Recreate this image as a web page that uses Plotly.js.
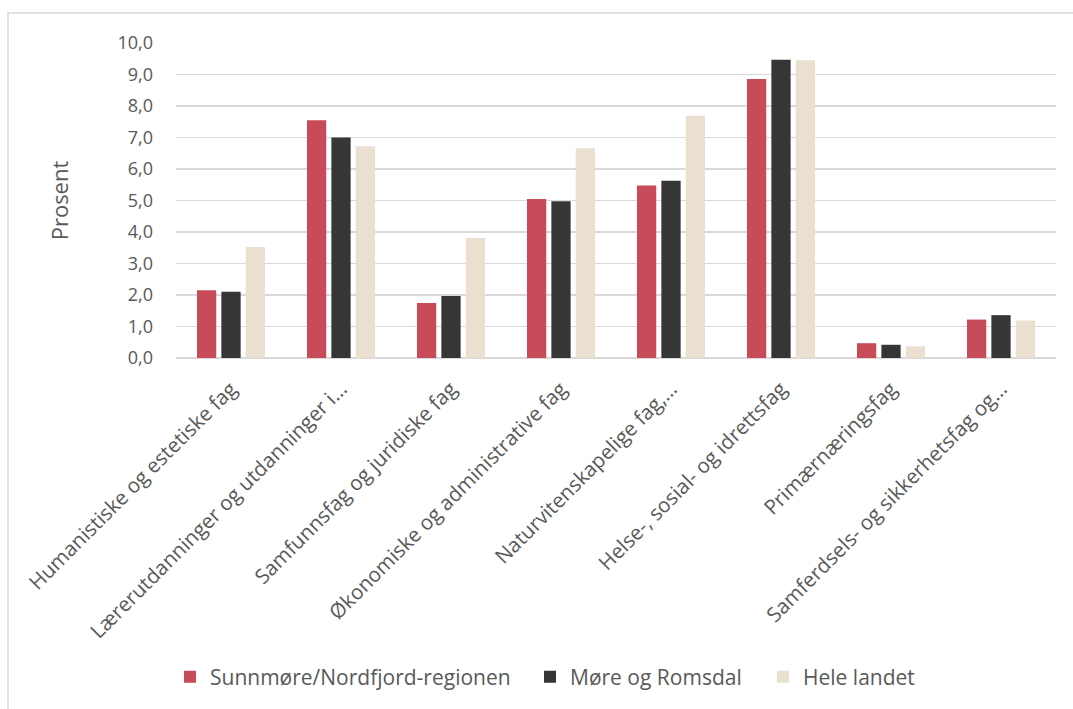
<!DOCTYPE html>
<html>
<head>
<meta charset="utf-8">
<script src="https://cdn.plot.ly/plotly-3.0.1.min.js"></script>
<style>html,body{margin:0;padding:0;background:#fff;}#chart{width:1073px;height:709px;}</style>
</head>
<body>
<div id="chart"></div>
<script>
const categories = [
  "Humanistiske og estetiske fag",
  "Lærerutdanninger og utdanninger i…",
  "Samfunnsfag og juridiske fag",
  "Økonomiske og administrative fag",
  "Naturvitenskapelige fag,…",
  "Helse-, sosial- og idrettsfag",
  "Primærnæringsfag",
  "Samferdsels- og sikkerhetsfag og…"
];
const seriesNames = ["Sunnmøre/Nordfjord-regionen", "Møre og Romsdal", "Hele landet"];
const sunnmore = [2.15, 7.55, 1.75, 5.05, 5.48, 8.86, 0.47, 1.22];
const moreRomsdal = [2.10, 7.00, 1.97, 4.98, 5.63, 9.47, 0.42, 1.36];
const heleLandet = [3.52, 6.72, 3.81, 6.66, 7.69, 9.45, 0.37, 1.19];
const yTicks = [0,1,2,3,4,5,6,7,8,9,10];

const colors = ["#C84B5A", "#363636", "#EBDFD0"];
const values = [sunnmore, moreRomsdal, heleLandet];
const font = "Open Sans, Noto Sans, sans-serif";
const legendIds = ["legend", "legend2", "legend3"];

const traces = values.map((v, i) => ({
  type: "bar",
  x: categories,
  y: v,
  name: seriesNames[i],
  legend: legendIds[i],
  marker: {color: colors[i]},
  hoverinfo: "none"
}));

const L = 176, R = 17, T = 43, B = 351;
const W = 1073, H = 709;
const pw = W - L - R, ph = H - T - B;
const px = v => (v - L) / pw;
const py = v => (H - B - v) / ph;

const legendStyle = (xPix) => ({
  orientation: "h",
  x: px(xPix), xanchor: "left",
  y: py(677), yanchor: "middle",
  font: {family: font, size: 21, color: "#595959"},
  bgcolor: "rgba(0,0,0,0)"
});

const layout = {
  width: W, height: H,
  margin: {l: L, r: R, t: T, b: B},
  paper_bgcolor: "#fff",
  plot_bgcolor: "#fff",
  separators: ", ",
  barmode: "group",
  bargap: 0.335,
  bargroupgap: 0.21,
  font: {family: font, color: "#595959", size: 18},
  xaxis: {
    type: "category",
    tickangle: -45,
    showgrid: false,
    showline: false,
    zeroline: false,
    ticks: "",
    ticklabelstandoff: 14,
    tickfont: {family: font, size: 20.5, color: "#595959"}
  },
  yaxis: {
    range: [0, 10],
    tickvals: yTicks,
    tickformat: ".1f",
    showgrid: true,
    gridcolor: "#d9d9d9",
    gridwidth: 1.5,
    zeroline: true,
    zerolinecolor: "#d9d9d9",
    zerolinewidth: 1.5,
    showline: false,
    ticks: "",
    ticklabelstandoff: 22,
    tickfont: {family: font, size: 18, color: "#595959"},
    title: {text: "Prosent", font: {family: font, size: 22, color: "#595959"}, standoff: 42}
  },
  legend: legendStyle(170),
  legend2: legendStyle(530),
  legend3: legendStyle(763),
  shapes: [{
    type: "rect", xref: "paper", yref: "paper",
    x0: px(8), x1: px(1085), y0: py(720), y1: py(13),
    line: {color: "#d9d9d9", width: 1.5},
    fillcolor: "rgba(0,0,0,0)",
    layer: "below"
  }],
  showlegend: true
};

Plotly.newPlot("chart", traces, layout, {displayModeBar: false, staticPlot: true});
</script>
</body>
</html>
